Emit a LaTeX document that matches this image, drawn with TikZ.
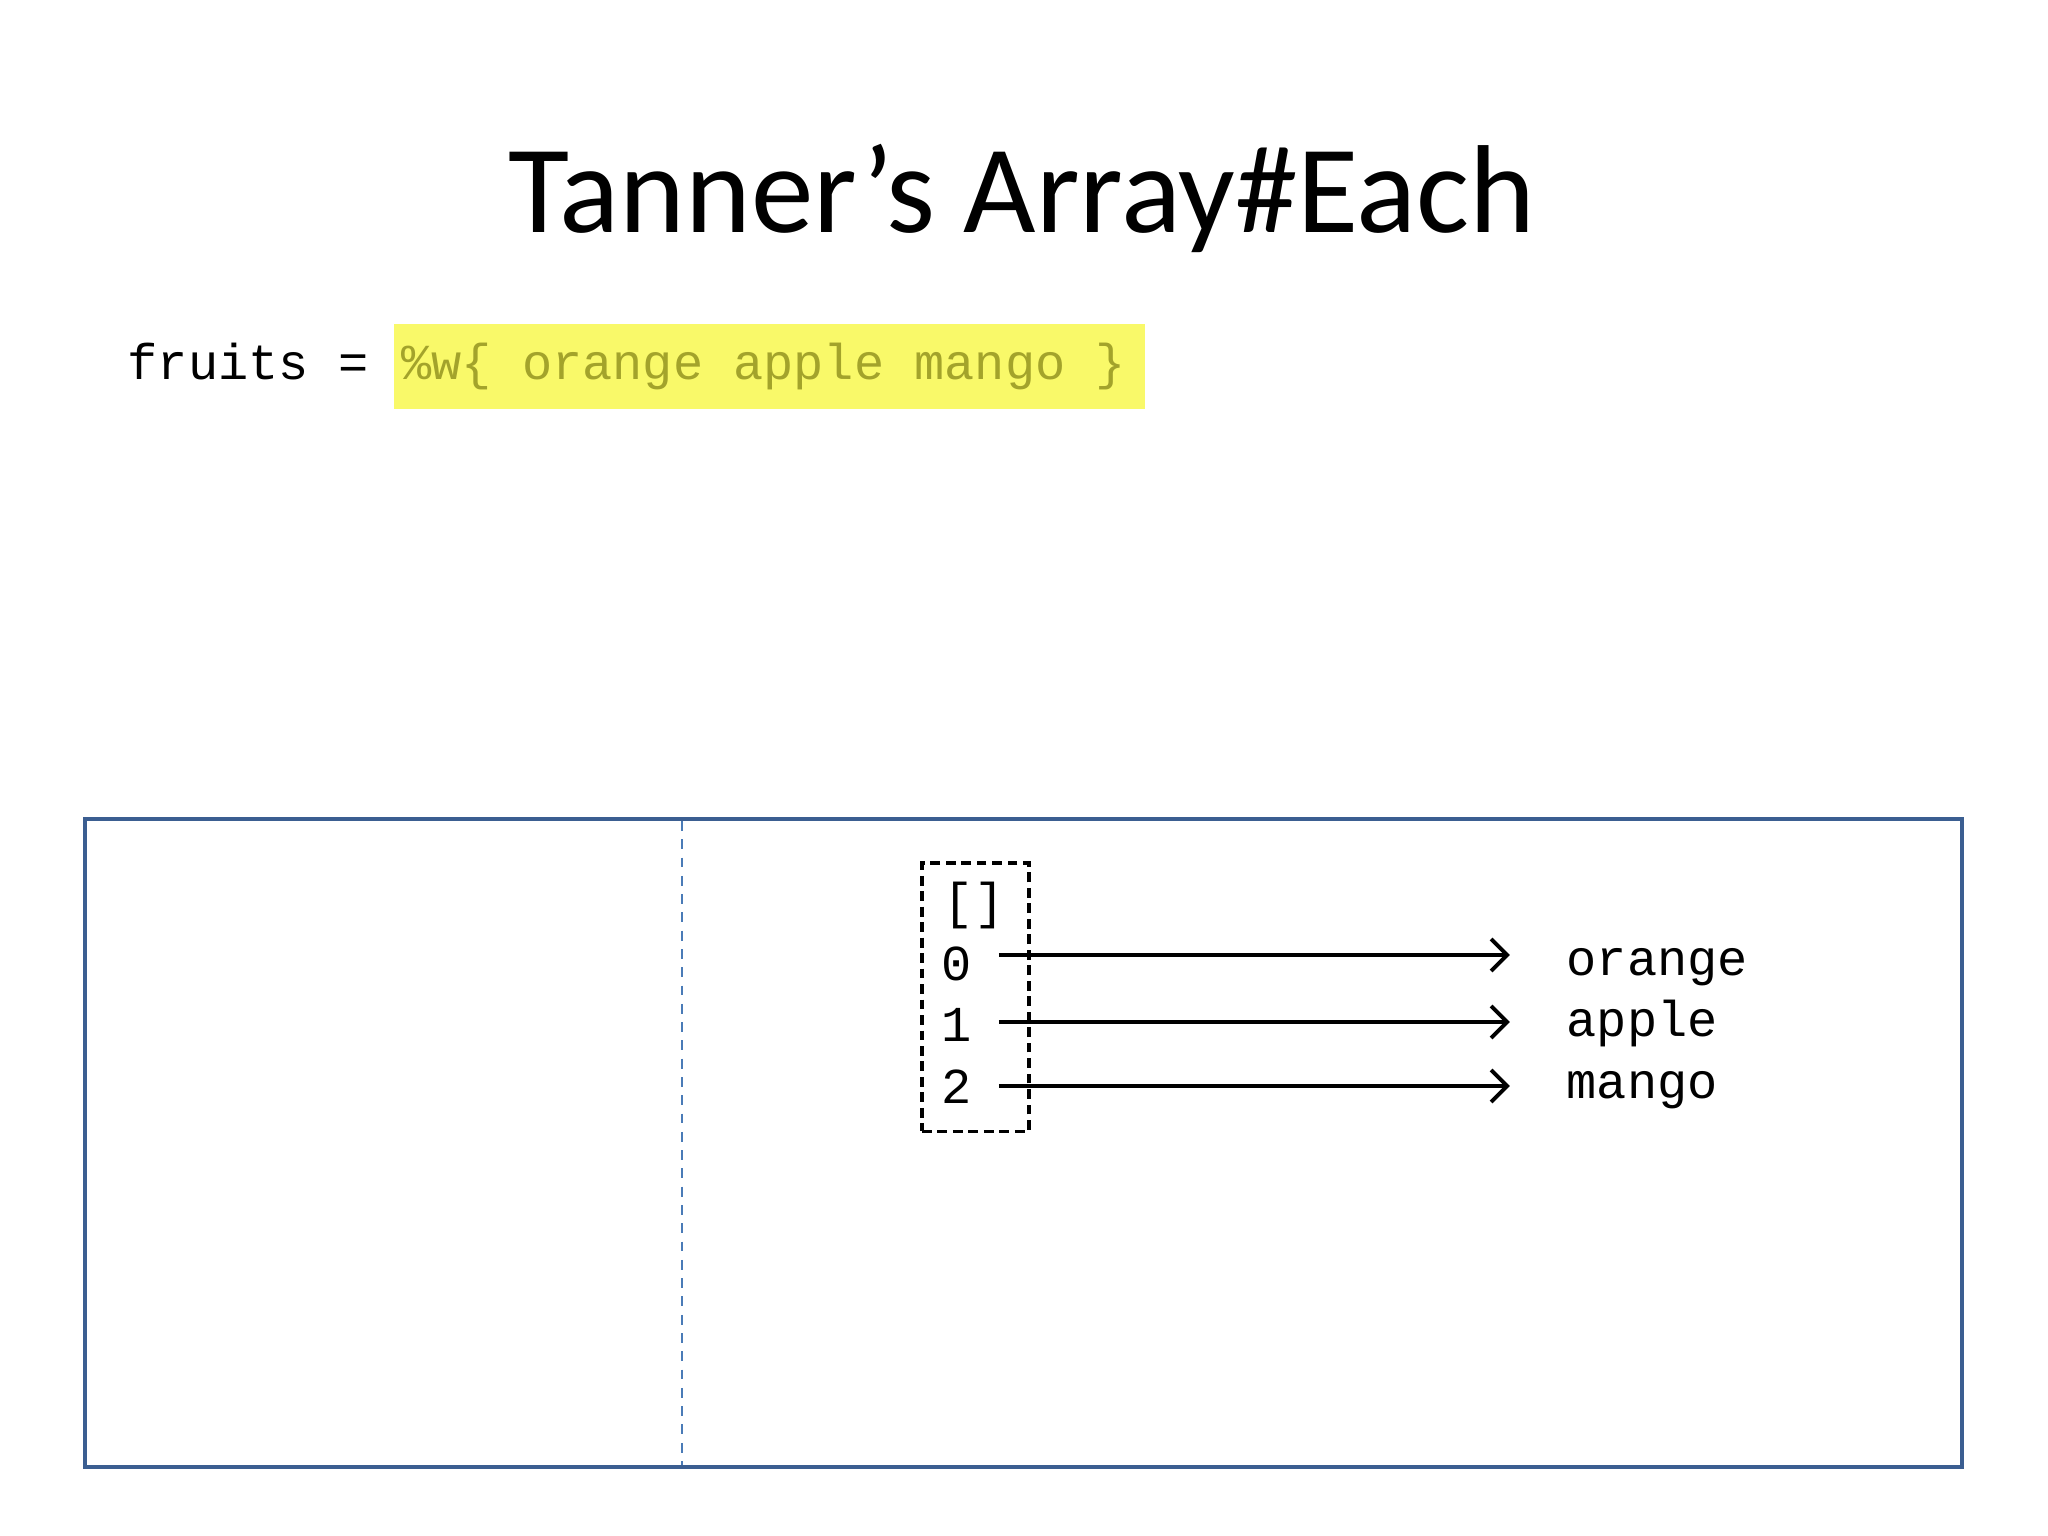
\documentclass[tikz,border=0pt]{standalone}
\usepackage{fontspec}
\setmainfont{Carlito}
\newfontfamily\codefont[WordSpace={1,0,0}]{Liberation Mono}
\usetikzlibrary{arrows.meta,positioning}
\definecolor{frameblue}{RGB}{59,94,145}
\definecolor{dividerblue}{RGB}{74,123,183}
\definecolor{hlyellow}{RGB}{249,249,105}
\definecolor{hlolive}{RGB}{163,163,43}

\begin{document}
\begin{tikzpicture}[
  x=0.01cm, y=-0.01cm,
  code/.style={inner sep=0pt, font=\codefont\fontsize{14.3pt}{17pt}\selectfont},
  hl/.style={code, fill=hlyellow, text=hlolive, inner xsep=0.08cm, text height=0.55cm, text depth=0.30cm},
  frame/.style={draw=frameblue, line width=1.4pt},
  divider/.style={draw=dividerblue, line width=0.6pt, dash pattern=on 2.8pt off 2.4pt},
  idxbox/.style={draw, line width=0.9pt, dash pattern=on 2.8pt off 1.6pt, minimum width=1.07cm, minimum height=2.68cm, inner sep=0pt},
  link/.style={-{Straight Barb[length=1.6mm, width=3.2mm]}, line width=1.15pt},
]
  \useasboundingbox (0,0) rectangle (2048,1536);

  % title
  \node[anchor=base, font=\fontsize{35.6pt}{40pt}\selectfont] (title) at (1022,232) {Tanner’s Array\#Each};

  % code line
  \node[code, anchor=base west] (lhs) at (127,379) {fruits =};
  \node[hl, base right=0.23cm of lhs] (rhs) {\%w\{\ orange\ apple\ mango\ \}\kern0.11cm};

  % memory picture
  \draw[frame] (85,819) rectangle (1962,1467);
  \draw[divider] (682,821) -- (682,1465);

  \node[idxbox] (arr) at (975.5,997) {};
  \node[code, anchor=base] (brk) at (974,918) {[]};
  \node[code, anchor=base] (i0) at (957,980) {0};
  \node[code, anchor=base] (i1) at (957,1041) {1};
  \node[code, anchor=base] (i2) at (957,1103) {2};

  \node[code, anchor=base west] (v0) at (1566,975) {orange};
  \node[code, anchor=base west] (v1) at (1566,1036) {apple};
  \node[code, anchor=base west] (v2) at (1566,1098) {mango};

  \draw[link, shorten <=0.26cm, shorten >=0.56cm] ([yshift=0.25cm]i0.base east) -- ([yshift=0.25cm]i0.base east -| v0.west);
  \draw[link, shorten <=0.26cm, shorten >=0.56cm] ([yshift=0.19cm]i1.base east) -- ([yshift=0.19cm]i1.base east -| v1.west);
  \draw[link, shorten <=0.26cm, shorten >=0.56cm] ([yshift=0.17cm]i2.base east) -- ([yshift=0.17cm]i2.base east -| v2.west);
\end{tikzpicture}
\end{document}
